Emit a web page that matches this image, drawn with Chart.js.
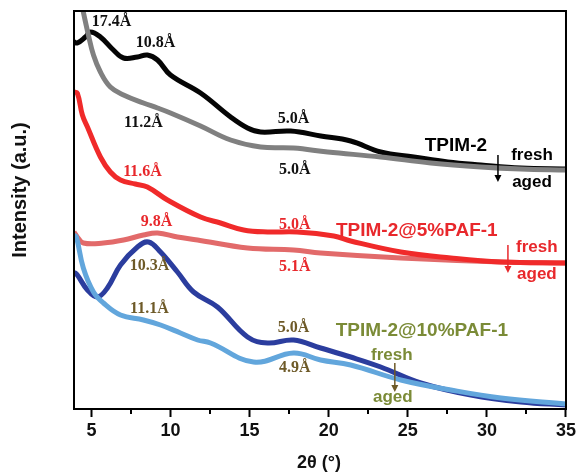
<!DOCTYPE html>
<html>
<head>
<meta charset="utf-8">
<title>XRD patterns</title>
<script src="https://cdn.jsdelivr.net/npm/chart.js@4.4.0/dist/chart.umd.min.js"></script>
<style>
  body { margin: 0; background: #fff; }
  canvas { display: block; }
</style>
</head>
<body>
<canvas id="xrdChart" width="579" height="475"></canvas>
<script>
// 2-theta ticks on the bottom axis
const majorTicks = [5, 10, 15, 20, 25, 30, 35];
const minorTicks = [7.5, 12.5, 17.5, 22.5, 27.5, 32.5];

// TPIM-2 (fresh / aged)
const tpimFreshX = [3.9, 4.11, 4.62, 4.94, 5.57, 6.39, 7.03, 7.91, 8.54, 9.18, 10.0, 11.9, 13.8, 14.87, 15.7, 17.6, 19.5, 21.39, 23.29, 25.38, 27.53, 29.62, 32.15, 35];
const tpimFreshY = [367, 366, 372, 377, 372, 359, 351, 352, 354, 349, 334, 316, 292, 281, 277, 278, 273, 268, 257, 252, 247, 244, 241, 240];
const tpimAgedX = [4.2, 4.49, 4.81, 5.13, 5.57, 6.2, 7.03, 8.29, 9.18, 10.0, 11.9, 13.8, 15.7, 17.78, 19.94, 23.29, 26.46, 29.62, 32.15, 35];
const tpimAgedY = [420, 397, 374, 354, 337, 322, 314, 306, 301, 296, 283, 269, 262, 261, 257, 252, 246, 242, 240, 239];

// TPIM-2@5%PAF-1 (fresh / aged)
const paf5FreshX = [3.9, 4.11, 4.43, 4.75, 5.57, 6.2, 6.84, 7.78, 8.54, 9.81, 11.9, 13.16, 14.62, 16.14, 18.0, 20.32, 21.39, 24.56, 27.72, 30.89, 35];
const paf5FreshY = [317, 316, 294, 282, 252, 237, 229, 225, 222, 209, 192, 186, 179, 177, 177, 173, 168, 157, 151, 147, 146];
const paf5AgedX = [3.9, 4.11, 4.49, 5.76, 7.03, 8.29, 9.18, 10.44, 11.71, 14.87, 17.78, 19.49, 24.56, 30.89, 35];
const paf5AgedY = [177, 172, 166, 166, 169, 174, 176, 172, 169, 161, 159, 156, 151, 147, 146];

// TPIM-2@10%PAF-1 (fresh / aged)
const paf10FreshX = [3.9, 4.11, 4.75, 5.38, 6.01, 6.84, 7.91, 8.61, 9.37, 10.44, 11.46, 12.97, 14.87, 16.14, 17.78, 19.49, 21.39, 23.29, 25.82, 28.99, 32.15, 35];
const paf10FreshY = [137, 134, 119, 112, 121, 144, 162, 167, 157, 137, 117, 102, 72, 66, 69, 61, 52, 42, 26, 14, 7, 4];
const paf10AgedX = [3.9, 4.05, 4.49, 5.13, 5.76, 6.84, 8.29, 9.37, 10.63, 11.71, 12.53, 15.25, 17.78, 19.49, 21.39, 24.56, 27.72, 30.89, 35];
const paf10AgedY = [174, 172, 141, 117, 106, 94, 89, 84, 76, 69, 66, 47, 56, 49, 44, 29, 19, 11, 5];

function points(xs, ys) {
    return xs.map((v, i) => ({x: v, y: ys[i]}));
}

function series(label, xs, ys, color) {
    return {
        label: label,
        data: points(xs, ys),
        borderColor: color,
        borderWidth: 5,
        pointRadius: 0,
        fill: false,
        tension: 0.4
    };
}

const peakFont = 'bold 16px "Liberation Serif"';
const nameFont = 'bold 19px "Liberation Sans"';
const stateFont = 'bold 17px "Liberation Sans"';

// peak d-spacings and series names, placed in data coordinates
const notes = [
    {text: '17.4Å', x: 6.27, y: 387, color: '#111', font: peakFont},
    {text: '10.8Å', x: 9.05, y: 366, color: '#111', font: peakFont},
    {text: '11.2Å', x: 8.29, y: 286, color: '#111', font: peakFont},
    {text: '5.0Å', x: 17.78, y: 290, color: '#111', font: peakFont},
    {text: '5.0Å', x: 17.85, y: 239, color: '#111', font: peakFont},
    {text: '11.6Å', x: 8.23, y: 237, color: '#e8282c', font: peakFont},
    {text: '5.0Å', x: 17.85, y: 184, color: '#e8282c', font: peakFont},
    {text: '9.8Å', x: 9.11, y: 187, color: '#e8282c', font: peakFont},
    {text: '5.1Å', x: 17.85, y: 142, color: '#e8282c', font: peakFont},
    {text: '10.3Å', x: 8.67, y: 143, color: '#6e5a28', font: peakFont},
    {text: '11.1Å', x: 8.67, y: 100, color: '#6e5a28', font: peakFont},
    {text: '5.0Å', x: 17.78, y: 81, color: '#6e5a28', font: peakFont},
    {text: '4.9Å', x: 17.85, y: 41, color: '#6e5a28', font: peakFont},
    {text: 'TPIM-2', x: 28.04, y: 263, color: '#000', font: nameFont},
    {text: 'fresh', x: 32.85, y: 254, color: '#000', font: stateFont},
    {text: 'aged', x: 32.85, y: 227, color: '#000', font: stateFont},
    {text: 'TPIM-2@5%PAF-1', x: 25.57, y: 178, color: '#e8282c', font: nameFont},
    {text: 'fresh', x: 33.16, y: 162, color: '#e8282c', font: stateFont},
    {text: 'aged', x: 33.16, y: 135, color: '#e8282c', font: stateFont},
    {text: 'TPIM-2@10%PAF-1', x: 25.89, y: 78, color: '#7b8b37', font: nameFont},
    {text: 'fresh', x: 23.99, y: 54, color: '#7b8b37', font: stateFont},
    {text: 'aged', x: 24.05, y: 12, color: '#7b8b37', font: stateFont}
];

// fresh -> aged arrows
const arrows = [
    {x: 30.7, y0: 254, y1: 227, color: '#000'},
    {x: 31.33, y0: 164, y1: 136, color: '#e8282c'},
    {x: 24.18, y0: 46, y1: 17, color: '#6e5a28'}
];

const decorations = {
    id: 'decorations',
    afterDraw(chart) {
        var ctx = chart.ctx;
        var area = chart.chartArea;
        var xs = chart.scales.x;
        var ys = chart.scales.y;
        ctx.save();

        // minor ticks, shorter than the major ones
        ctx.strokeStyle = '#000';
        ctx.lineWidth = 2;
        minorTicks.forEach(function(t) {
            var px = Math.round(xs.getPixelForValue(t));
            ctx.beginPath();
            ctx.moveTo(px, area.bottom);
            ctx.lineTo(px, area.bottom + 5);
            ctx.stroke();
        });

        // frame
        ctx.strokeRect(area.left, area.top, area.right - area.left, area.bottom - area.top);

        ctx.textAlign = 'center';
        ctx.textBaseline = 'middle';
        notes.forEach(function(n) {
            ctx.font = n.font;
            ctx.fillStyle = n.color;
            ctx.fillText(n.text, xs.getPixelForValue(n.x), ys.getPixelForValue(n.y));
        });

        arrows.forEach(function(a) {
            var px = xs.getPixelForValue(a.x);
            var top = ys.getPixelForValue(a.y0);
            var tip = ys.getPixelForValue(a.y1);
            ctx.strokeStyle = a.color;
            ctx.fillStyle = a.color;
            ctx.lineWidth = 1.5;
            ctx.beginPath();
            ctx.moveTo(px, top);
            ctx.lineTo(px, tip - 5);
            ctx.stroke();
            ctx.beginPath();
            ctx.moveTo(px - 3.5, tip - 7);
            ctx.lineTo(px + 3.5, tip - 7);
            ctx.lineTo(px, tip);
            ctx.closePath();
            ctx.fill();
        });

        // axis titles
        ctx.fillStyle = '#111';
        ctx.font = 'bold 18px "Liberation Sans"';
        ctx.fillText('2θ (°)', 319, 463);
        ctx.translate(20, 190);
        ctx.rotate(-Math.PI / 2);
        ctx.font = 'bold 20px "Liberation Sans"';
        ctx.fillText('Intensity (a.u.)', 0, 0);
        ctx.restore();
    }
};

new Chart(document.getElementById('xrdChart').getContext('2d'), {
    type: 'line',
    data: {
        datasets: [
            series('TPIM-2@10%PAF-1 aged', paf10AgedX, paf10AgedY, '#62a6dc'),
            series('TPIM-2@10%PAF-1 fresh', paf10FreshX, paf10FreshY, '#2b3d9e'),
            series('TPIM-2@5%PAF-1 fresh', paf5FreshX, paf5FreshY, '#f02a2a'),
            series('TPIM-2@5%PAF-1 aged', paf5AgedX, paf5AgedY, '#e26a6a'),
            series('TPIM-2 aged', tpimAgedX, tpimAgedY, '#808080'),
            series('TPIM-2 fresh', tpimFreshX, tpimFreshY, '#050505')
        ]
    },
    options: {
        responsive: false,
        animation: false,
        layout: {padding: {left: 74, right: 13, top: 11, bottom: 0}},
        plugins: {
            legend: {display: false},
            tooltip: {enabled: false}
        },
        scales: {
            x: {
                type: 'linear',
                min: 3.9,
                max: 35,
                afterBuildTicks: function(scale) {
                    scale.ticks = majorTicks.map(v => ({value: v}));
                },
                afterFit: function(scale) {
                    scale.height = 66;
                },
                grid: {
                    drawOnChartArea: false,
                    tickLength: 8,
                    tickWidth: 2,
                    tickColor: '#000'
                },
                border: {display: false},
                ticks: {
                    padding: 3,
                    maxRotation: 0,
                    color: '#111',
                    font: {family: 'Liberation Sans', size: 18, weight: 'bold'}
                }
            },
            y: {
                display: false,
                min: 0,
                max: 398
            }
        }
    },
    plugins: [decorations]
});
</script>
</body>
</html>
